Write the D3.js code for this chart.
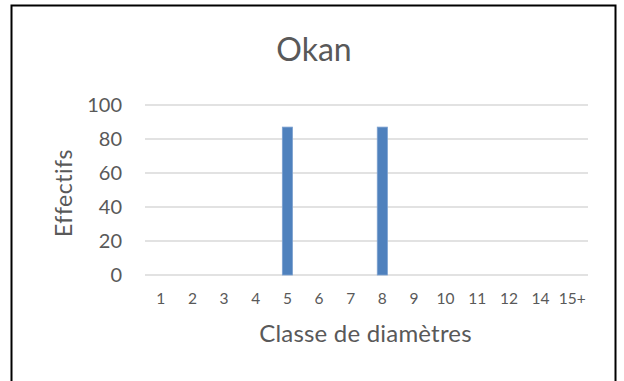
<!DOCTYPE html>
<html>
<head>
<meta charset="utf-8">
<script src="https://cdn.jsdelivr.net/npm/d3@7"></script>
<style>
  html, body { margin: 0; padding: 0; background: #fff; }
  svg { display: block; font-family: Lato, "Open Sans", sans-serif; }
</style>
</head>
<body>
<svg id="chart" width="624" height="381"></svg>
<script>
// Diameter classes and stem counts for Okan
const categories = ["1", "2", "3", "4", "5", "6", "7", "8", "9", "10", "11", "12", "14", "15+"];
const counts     = [0, 0, 0, 0, 87, 0, 0, 87, 0, 0, 0, 0, 0, 0];
const yTicks     = [0, 20, 40, 60, 80, 100];

const title  = "Okan";
const xTitle = "Classe de diamètres";
const yTitle = "Effectifs";

const svg = d3.select("#chart");
const W = 624, H = 381;
const plot = { left: 145, right: 588, top: 105, bottom: 275 };

// Chart frame
svg.append("rect")
  .attr("x", 11.5).attr("y", 5.5)
  .attr("width", 604).attr("height", H + 10)
  .attr("fill", "#fff")
  .attr("stroke", "#000").attr("stroke-width", 2);

const x = d3.scaleBand()
  .domain(categories)
  .range([plot.left, plot.right])
  .paddingInner(0.68).paddingOuter(0.34);

const y = d3.scaleLinear().domain([0, 100]).range([plot.bottom, plot.top]);

// Horizontal gridlines
svg.append("g").selectAll("line")
  .data(yTicks).join("line")
  .attr("x1", plot.left).attr("x2", plot.right)
  .attr("y1", d => y(d)).attr("y2", d => y(d))
  .attr("stroke", "#d9d9d9").attr("stroke-width", 1.5);

// Y axis labels
const yAxis = d3.axisLeft(y).tickValues(yTicks).tickSize(0).tickPadding(0);
svg.append("g")
  .attr("transform", `translate(${plot.left - 23},0)`)
  .call(yAxis)
  .call(g => g.select(".domain").remove())
  .call(g => g.selectAll("text")
    .attr("fill", "#595959")
    .attr("font-size", 20)
    .attr("font-family", "Lato, 'Open Sans', sans-serif"));

// X axis labels
const xAxis = d3.axisBottom(x).tickSize(0).tickPadding(0);
svg.append("g")
  .attr("transform", `translate(0,${plot.bottom + 18})`)
  .call(xAxis)
  .call(g => g.select(".domain").remove())
  .call(g => g.selectAll("text")
    .attr("fill", "#595959")
    .attr("font-size", 15.5)
    .attr("font-family", "Lato, 'Open Sans', sans-serif"));

// Bars
svg.append("g").selectAll("rect")
  .data(categories.map((c, i) => ({ c, v: counts[i] })).filter(d => d.v > 0))
  .join("rect")
  .attr("x", d => x(d.c))
  .attr("width", x.bandwidth())
  .attr("y", d => y(d.v))
  .attr("height", d => y(0) - y(d.v))
  .attr("fill", "#4f81bd")
  .attr("stroke", "#7ba0cf").attr("stroke-width", 0.8);

// Titles
svg.append("text")
  .attr("x", 314).attr("y", 61)
  .attr("text-anchor", "middle")
  .attr("font-size", 32).attr("fill", "#595959")
  .text(title);

svg.append("text")
  .attr("x", 365.5).attr("y", 342)
  .attr("text-anchor", "middle")
  .attr("font-size", 24).attr("letter-spacing", 0.2).attr("fill", "#595959")
  .text(xTitle);

svg.append("text")
  .attr("transform", `translate(72,193) rotate(-90)`)
  .attr("text-anchor", "middle")
  .attr("font-size", 23).attr("letter-spacing", 0.5).attr("fill", "#595959")
  .text(yTitle);
</script>
</body>
</html>
